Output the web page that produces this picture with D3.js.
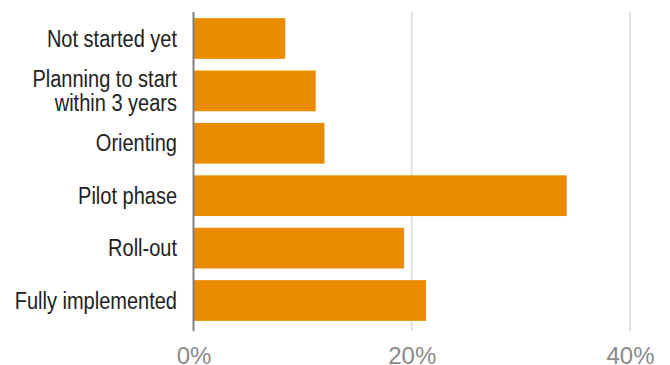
<!DOCTYPE html>
<html>
<head>
<meta charset="utf-8">
<script src="https://cdn.jsdelivr.net/npm/d3@7"></script>
<style>
  html, body { margin: 0; padding: 0; background: #fff; }
  svg { display: block; }
</style>
</head>
<body>
<script>
// Share of organisations per implementation stage (%)
const stages = [
  "Not started yet",
  "Planning to start within 3 years",
  "Orienting",
  "Pilot phase",
  "Roll-out",
  "Fully implemented"
];
const stageLines = [
  ["Not started yet"],
  ["Planning to start", "within 3 years"],
  ["Orienting"],
  ["Pilot phase"],
  ["Roll-out"],
  ["Fully implemented"]
];
const shares = [8.4, 11.2, 12.0, 34.2, 19.3, 21.3];
const xTicks = [0, 20, 40];

const W = 670, H = 365;
const svg = d3.select("body").append("svg").attr("width", W).attr("height", H);

const x = d3.scaleLinear().domain([0, 40]).range([193.5, 630]);
const y = d3.scaleBand().domain(stages).range([12, 327]).paddingInner(0.223).paddingOuter(0.117);

const axisTop = 12, axisBottom = 331;

// vertical gridlines
svg.append("g").selectAll("line").data(xTicks.filter(d => d > 0)).join("line")
  .attr("x1", d => x(d)).attr("x2", d => x(d))
  .attr("y1", axisTop).attr("y2", axisBottom)
  .attr("stroke", "#e2e2e2").attr("stroke-width", 2);

// bars
svg.append("g").selectAll("rect").data(stages).join("rect")
  .attr("x", x(0))
  .attr("y", d => y(d))
  .attr("width", (d, i) => x(shares[i]) - x(0))
  .attr("height", y.bandwidth())
  .attr("fill", "#ea8b00");

// baseline axis
svg.append("line")
  .attr("x1", x(0)).attr("x2", x(0))
  .attr("y1", axisTop).attr("y2", axisBottom)
  .attr("stroke", "#808080").attr("stroke-width", 2);

// category labels, horizontally condensed
const labelRight = 177;
const labels = svg.append("g")
  .attr("font-family", "'Liberation Sans', Arial, sans-serif")
  .attr("font-size", 23)
  .attr("fill", "#222")
  .attr("text-anchor", "end");
stages.forEach((s, i) => {
  const lines = stageLines[i];
  const cy = y(s) + y.bandwidth() / 2;
  const lh = 23.7;
  const t = labels.append("text")
    .attr("transform", `translate(${labelRight},${cy}) scale(0.87,1)`);
  lines.forEach((ln, j) => {
    t.append("tspan")
      .attr("x", 0)
      .attr("y", (j - (lines.length - 1) / 2) * lh)
      .attr("dy", "0.35em")
      .text(ln);
  });
});

// x axis tick labels
const xAxis = d3.axisBottom(x).tickValues(xTicks).tickSize(0).tickFormat(d => d + "%");
const gx = svg.append("g").attr("transform", `translate(0, ${axisBottom})`).call(xAxis);
gx.select(".domain").remove();
gx.selectAll("text")
  .attr("font-family", "'Liberation Sans', Arial, sans-serif")
  .attr("font-size", 24)
  .attr("fill", "#8a8a8a")
  .attr("dy", 0)
  .attr("y", 33);
</script>
</body>
</html>
